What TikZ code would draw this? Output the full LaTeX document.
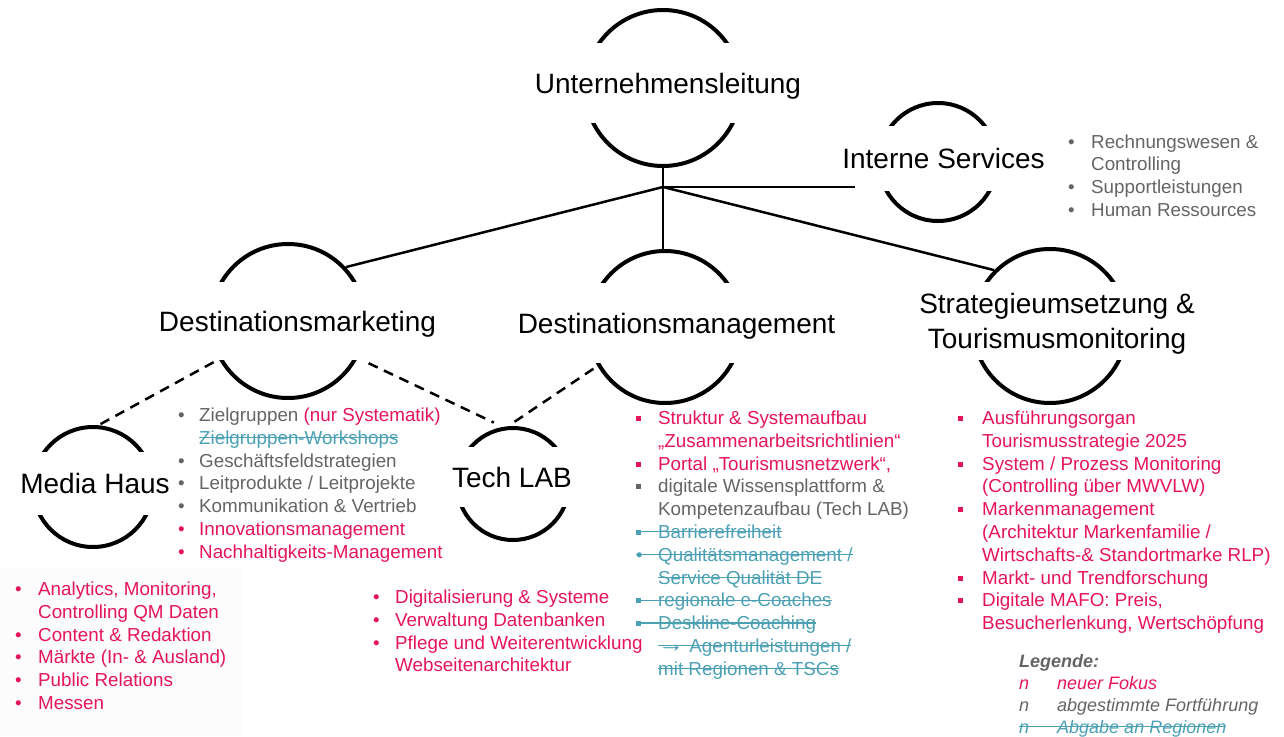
\documentclass[tikz,border=0pt]{standalone}
\usepackage{fontspec}
\setmainfont{Liberation Sans}
\usetikzlibrary{calc}
\definecolor{pk}{RGB}{230,20,92}
\definecolor{gy}{RGB}{100,100,100}
\definecolor{tq}{RGB}{75,160,180}
\newlength\stkw
\newcommand\stk[1]{\settowidth{\stkw}{#1}\rlap{\rule[0.32em]{\stkw}{1.2pt}}#1}
\newcommand\sqb{\rule[3.5pt]{5pt}{5pt}}
\newcommand\bu[2]{\makebox[#1][l]{#2}}
\newcommand\bigarr{{\fontsize{26}{22.8}\selectfont →}}
\tikzset{
  ring/.style={circle, draw, line width=4pt, inner sep=0pt},
  lbl/.style={fill=white, inner xsep=6pt, inner ysep=0pt, text height=24pt, text depth=4pt, font=\fontsize{28}{35}\selectfont},
  conn/.style={line width=2.5pt},
  dconn/.style={line width=2.5pt, dash pattern=on 10pt off 7pt},
  lst/.style={inner sep=0pt, anchor=base west, font=\fontsize{18.8}{22.8}\selectfont},
}
\begin{document}
\begin{tikzpicture}[x=1pt,y=-1pt]
\useasboundingbox (0,0) rectangle (1284,736);
\fill[black!1] (0,568) rectangle (242,736);

% circles
\node[ring, minimum size=156pt] (ul) at (663,88) {};
\node[ring, minimum size=118pt] (is) at (938,162) {};
\node[ring, minimum size=154pt] (dm) at (288,321) {};
\node[ring, minimum size=152pt] (dmg) at (665,327) {};
\node[ring, minimum size=154pt] (st) at (1050,326) {};
\node[ring, minimum size=120pt] (mh) at (93,487) {};
\node[ring, minimum size=112pt] (tlab) at (513,484) {};

% labels
\node[lbl, minimum height=80pt] (ulL) at (668,83) {Unternehmensleitung};
\node[lbl, minimum height=65pt] (isL) at (943.5,158) {Interne Services};
\node[lbl, minimum height=78pt] (dmL) at (297.5,321) {Destinationsmarketing};
\node[lbl, minimum height=80pt] (dmgL) at (676.5,323) {Destinationsmanagement};
\node[lbl, minimum height=78pt, text depth=39pt] (stL) at (1057,321)
  {\begin{tabular}[t]{@{}c@{}}Strategieumsetzung \&\\Tourismusmonitoring\end{tabular}};
\node[lbl, minimum height=63pt] (mhL) at (95,483.5) {Media Haus};
\node[lbl, minimum height=60pt] (tlabL) at (512,477) {Tech LAB};

% connectors
\coordinate (J) at (663,187);
\coordinate (isend) at (855,187);
\draw[conn] (ul.south) -- (ul.south |- dmg.north);
\draw[conn] (J) -- (dm.43);
\draw[conn] (J) -- (isend);
\draw[conn] (J) -- (st.135);
\draw[dconn, shorten <=6pt] (dm.209) -- (mh.85);
\draw[dconn, shorten <=12pt, shorten >=10pt] (dm.332) -- (tlab.100);
\draw[dconn, shorten <=8pt] (tlab.95) -- (dmg.210);

% lists
\node[lst] (lF) at (1068,148) {\begin{tabular}[t]{@{}l@{}}
\color{gy}\bu{23pt}{•}Rechnungswesen \&\\
\color{gy}\hspace*{23pt}Controlling\\
\color{gy}\bu{23pt}{•}Supportleistungen\\
\color{gy}\bu{23pt}{•}Human Ressources
\end{tabular}};

\node[lst] (lA) at (178,421.5) {\begin{tabular}[t]{@{}l@{}}
\color{gy}\bu{21pt}{•}Zielgruppen {\color{pk}(nur Systematik)}\\
\color{tq}\hspace*{21pt}\stk{Zielgruppen-Workshops}\\
\color{gy}\bu{21pt}{•}Geschäftsfeldstrategien\\
\color{gy}\bu{21pt}{•}Leitprodukte / Leitprojekte\\
\color{gy}\bu{21pt}{•}Kommunikation \& Vertrieb\\
\color{pk}\bu{21pt}{•}Innovationsmanagement\\
\color{pk}\bu{21pt}{•}Nachhaltigkeits-Management
\end{tabular}};

\node[lst] (lB) at (15,595.5) {\begin{tabular}[t]{@{}l@{}}
\color{pk}\bu{23pt}{•}Analytics, Monitoring,\\
\color{pk}\hspace*{23pt}Controlling QM Daten\\
\color{pk}\bu{23pt}{•}Content \& Redaktion\\
\color{pk}\bu{23pt}{•}Märkte (In- \& Ausland)\\
\color{pk}\bu{23pt}{•}Public Relations\\
\color{pk}\bu{23pt}{•}Messen
\end{tabular}};

\node[lst] (lC) at (373,603.5) {\begin{tabular}[t]{@{}l@{}}
\color{pk}\bu{22pt}{•}Digitalisierung \& Systeme\\
\color{pk}\bu{22pt}{•}Verwaltung Datenbanken\\
\color{pk}\bu{22pt}{•}Pflege und Weiterentwicklung\\
\color{pk}\hspace*{22pt}Webseitenarchitektur
\end{tabular}};

\node[lst] (lD) at (636,424.5) {\begin{tabular}[t]{@{}l@{}}
\color{pk}\bu{22pt}{\sqb}Struktur \& Systemaufbau\\
\color{pk}\hspace*{22pt}„Zusammenarbeitsrichtlinien“\\
\color{pk}\bu{22pt}{\sqb}Portal „Tourismusnetzwerk“,\\
\color{gy}\bu{22pt}{\sqb}digitale Wissensplattform \&\\
\color{gy}\hspace*{22pt}Kompetenzaufbau (Tech LAB)\\
\color{tq}\stk{\bu{22pt}{\sqb}Barrierefreiheit}\\
\color{tq}\stk{\bu{22pt}{•}Qualitätsmanagement /}\\
\color{tq}\hspace*{22pt}\stk{Service Qualität DE}\\
\color{tq}\stk{\bu{22pt}{\sqb}regionale e-Coaches}\\
\color{tq}\stk{\bu{22pt}{\sqb}Deskline-Coaching}\\
\color{tq}\hspace*{22pt}\stk{\bigarr\ Agenturleistungen /}\\
\color{tq}\hspace*{22pt}\stk{mit Regionen \& TSCs}
\end{tabular}};

\node[lst] (lE) at (958,424.5) {\begin{tabular}[t]{@{}l@{}}
\color{pk}\bu{24pt}{\sqb}Ausführungsorgan\\
\color{pk}\hspace*{24pt}Tourismusstrategie 2025\\
\color{pk}\bu{24pt}{\sqb}System / Prozess Monitoring\\
\color{pk}\hspace*{24pt}(Controlling über MWVLW)\\
\color{pk}\bu{24pt}{\sqb}Markenmanagement\\
\color{pk}\hspace*{24pt}(Architektur Markenfamilie /\\
\color{pk}\hspace*{24pt}Wirtschafts-\& Standortmarke RLP)\\
\color{pk}\bu{24pt}{\sqb}Markt- und Trendforschung\\
\color{pk}\bu{24pt}{\sqb}Digitale MAFO: Preis,\\
\color{pk}\hspace*{24pt}Besucherlenkung, Wertschöpfung
\end{tabular}};

% legend
\node[lst, font=\fontsize{18}{22}\selectfont\itshape] (lg) at (1019,667) {\begin{tabular}[t]{@{}l@{}}
\color{gy}\textbf{Legende:}\\
\color{pk}\bu{38pt}{n}neuer Fokus\\
\color{gy}\bu{38pt}{n}abgestimmte Fortführung\\
\color{tq}\stk{\bu{38pt}{n}Abgabe an Regionen}
\end{tabular}};
\end{tikzpicture}
\end{document}
